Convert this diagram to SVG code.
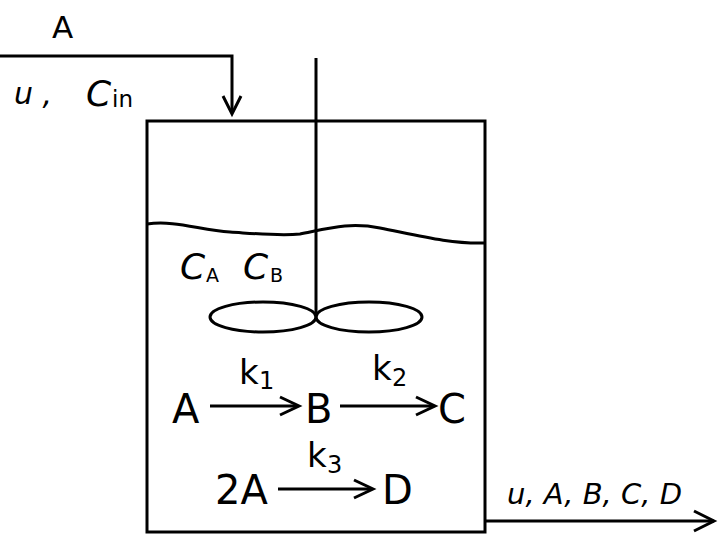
<svg xmlns="http://www.w3.org/2000/svg" width="724" height="540" viewBox="0 0 724 540">
<style>
.l{fill:none;stroke:#000;stroke-width:3}
.t{font-family:"DejaVu Sans",sans-serif;fill:#000}
.ah{fill:none;stroke:#000;stroke-width:3}
</style>
<rect width="724" height="540" fill="#fff"/>
<g id="connectors">
<path class="l" d="M0 56 H232 V113"/>
<path class="ah" d="M223 96 L232 114 L241 96"/>
<path class="l" d="M485 521 H714"/>
<path class="ah" d="M694 511 L714 521 L694 531"/>
<path class="l" d="M210 406 H298"/>
<path class="ah" d="M280 397 L299 406 L280 415"/>
<path class="l" d="M340 406 H434"/>
<path class="ah" d="M416 397 L435 406 L416 415"/>
<path class="l" d="M278 489 H372"/>
<path class="ah" d="M354 480 L373 489 L354 498"/>
</g>
<g id="tank">
<rect x="147" y="121" width="338" height="411" class="l"/>
<path class="l" d="M147 224 C175 220 200 230 230 232 C260 234 280 236 300 234 C330 228 350 222 380 228 C420 236 450 244 485 243"/>
</g>
<g id="stirrer">
<path class="l" d="M316 58 V316"/>
<ellipse cx="263" cy="317" rx="53" ry="15" class="l"/>
<ellipse cx="369" cy="317" rx="53" ry="15" class="l"/>
</g>
<g id="labels">
<text class="t" x="52" y="38" font-size="31">A</text>
<text class="t" x="14" y="104" font-size="30" font-style="italic">u ,</text>
<text class="t" x="86" y="106" font-size="36" font-style="italic">C</text>
<text class="t" x="112" y="107" font-size="23" fill="#222">in</text>
<text class="t" x="180" y="279" font-size="36" font-style="italic">C</text>
<text class="t" x="206" y="282" font-size="19">A</text>
<text class="t" x="243" y="279" font-size="36" font-style="italic">C</text>
<text class="t" x="270" y="282" font-size="19">B</text>
<text class="t" x="239" y="384" font-size="34">k</text>
<text class="t" x="259" y="389" font-size="24">1</text>
<text class="t" x="372" y="380" font-size="34">k</text>
<text class="t" x="392" y="386" font-size="24">2</text>
<text class="t" x="307" y="467" font-size="34">k</text>
<text class="t" x="327" y="473" font-size="24">3</text>
<text class="t" x="172" y="423" font-size="40">A</text>
<text class="t" x="305" y="423" font-size="40">B</text>
<text class="t" x="438" y="423" font-size="40">C</text>
<text class="t" x="215" y="504" font-size="40">2A</text>
<text class="t" x="382" y="504" font-size="40">D</text>
<text class="t" x="507" y="504" font-size="29" font-style="italic">u, A, B, C, D</text>
</g>
</svg>
